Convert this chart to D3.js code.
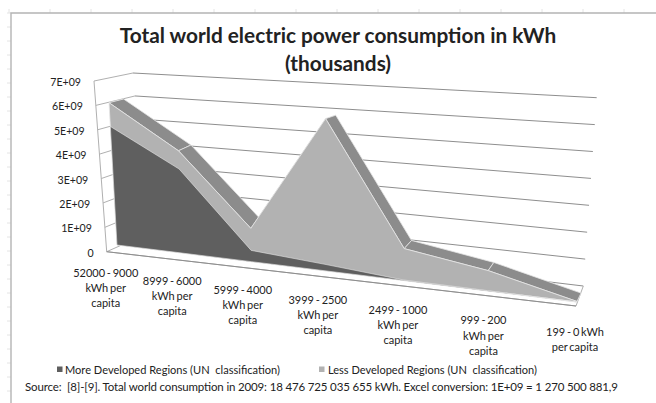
<!DOCTYPE html>
<html><head><meta charset="utf-8">
<script src="https://cdn.jsdelivr.net/npm/d3@7"></script>
<style>html,body{margin:0;background:#fff}svg{display:block}text{font-family:Lato,"Open Sans",sans-serif;fill:#222;white-space:pre}</style>
</head><body><div id="c"></div>
<script>
const categories=[["52000 - 9000","kWh per","capita"],["8999 - 6000","kWh per","capita"],["5999 - 4000","kWh per","capita"],["3999 - 2500","kWh per","capita"],["2499 - 1000","kWh per","capita"],["999 - 200","kWh per","capita"],["199 - 0 kWh","per capita"]];
const moreDeveloped=[5.0,3.45,0.45,0.25,0.02,0.01,0];
const lessDeveloped=[1.0,0.75,0.88,5.65,1.18,0.73,0.02];
const yTicks=[0,1,2,3,4,5,6,7];
const yLabels=["0","1E+09","2E+09","3E+09","4E+09","5E+09","6E+09","7E+09"];
const titleLines=["Total world electric power consumption in kWh","(thousands)"];
const legendNames=["More Developed Regions (UN  classification)","Less Developed Regions (UN  classification)"];
const source="Source:  [8]-[9]. Total world consumption in 2009: 18 476 725 035 655 kWh. Excel conversion: 1E+09 = 1 270 500 881,9";

const W=656,H=403;
const svg=d3.select("#c").append("svg").attr("width",W).attr("height",H);
const lerp=(a,b,t)=>a+(b-a)*t;
const bilinear=(q,u,v)=>{const b=[lerp(q.bl[0],q.br[0],u),lerp(q.bl[1],q.br[1],u)],t=[lerp(q.tl[0],q.tr[0],u),lerp(q.tl[1],q.tr[1],u)];return [lerp(b[0],t[0],v),lerp(b[1],t[1],v)];};
// planes of the pseudo-3D box
const frontWall={bl:[106.7,251.7],tl:[94,81],br:[576,306],tr:[590,106]};
const backWall={bl:[147,233.7],tl:[133,73],br:[583.3,286],tr:[596.7,97.7]};
const faceFront={bl:[117,245],tl:[107.7,79],br:[577,302],tr:[590,104]};
const faceBack={bl:[129,234],tl:[122.7,76.5],br:[581,293.6],tr:[595,102]};
const yS=d3.scaleLinear().domain([0,7]).range([0,1]);
const xS=d3.scalePoint().domain(d3.range(categories.length)).range([0,1]);
const persp=t=>t/(t+1.212*(1-t));
const cx=i=>persp(xS(i));
const stacked=moreDeveloped.map((d,i)=>d+lessDeveloped[i]);
const line=d3.line();
const g=svg.append("g");

// worksheet frame
const sheetCols=d3.range(0,16),sheetRows=d3.range(0,29);
g.selectAll(".cm").data(sheetCols).join("line").attr("x1",d=>9+d*41).attr("x2",d=>9+d*41).attr("y1",9).attr("y2",13).attr("stroke","#e4e4e4");
g.selectAll(".rm").data(sheetRows).join("line").attr("y1",d=>13+d*14).attr("y2",d=>13+d*14).attr("x1",7).attr("x2",11).attr("stroke","#e4e4e4");
g.append("path").attr("d",line([[656,13],[11,13],[11,403]])).attr("fill","none").attr("stroke","#b4b4b4").attr("stroke-width",1.4);

// left wall and gridlines
const wall="#b0b0b0",grid="#8e8e8e";
g.selectAll(".lw").data(yTicks).join("path").attr("fill","none").attr("stroke",wall)
 .attr("d",d=>line([bilinear(frontWall,0,yS(d)),bilinear(backWall,0,yS(d))]));
g.selectAll(".bw").data(yTicks).join("path").attr("fill","none").attr("stroke",grid)
 .attr("d",d=>line([bilinear(backWall,0,yS(d)),bilinear(backWall,1,yS(d))]));
g.append("path").attr("fill","none").attr("stroke",wall).attr("d",line([frontWall.tl,frontWall.bl,frontWall.br,backWall.br]));
g.append("path").attr("fill","none").attr("stroke",grid).attr("d",line([frontWall.bl,frontWall.br]));

// top surface of the stack
const edge="#e6e6e6";
g.selectAll(".band").data(d3.range(categories.length-1)).join("path").attr("fill","#8c8c8c").attr("stroke",edge).attr("stroke-width",.8)
 .attr("d",i=>line([bilinear(faceFront,cx(i),yS(stacked[i])),bilinear(faceFront,cx(i+1),yS(stacked[i+1])),bilinear(faceBack,cx(i+1),yS(stacked[i+1])),bilinear(faceBack,cx(i),yS(stacked[i]))])+"Z");
// faces
const faceArea=(vals)=>{const top=vals.map((v,i)=>bilinear(faceFront,cx(i),yS(v)));const bot=vals.map((v,i)=>bilinear(faceFront,cx(i),0)).reverse();return line(top.concat(bot))+"Z";};
g.append("path").attr("d",faceArea(stacked)).attr("fill","#b2b2b2").attr("stroke",edge).attr("stroke-width",.8);
g.append("path").attr("d",faceArea(moreDeveloped)).attr("fill","#5f5f5f").attr("stroke",edge).attr("stroke-width",.6);

// axis labels
g.selectAll(".yl").data(yTicks).join("text").attr("text-anchor","end").attr("font-size",10.6).attr("dominant-baseline","central")
 .attr("x",d=>bilinear(frontWall,0,yS(d))[0]-13).attr("y",d=>bilinear(frontWall,0,yS(d))[1]+1).text((d,i)=>yLabels[i]);
categories.forEach((lines,i)=>{const p=bilinear(frontWall,cx(i),0);
 g.append("g").selectAll("text").data(lines).join("text").attr("text-anchor","middle").attr("font-size",11).attr("word-spacing",-1).attr("dominant-baseline","central")
  .attr("x",p[0]-1).attr("y",(d,k)=>p[1]+20.5+5*cx(i)+k*15.2).text(d=>d);});

// title
g.selectAll(".t").data(titleLines).join("text").attr("text-anchor","middle").attr("x",338).attr("y",(d,i)=>43+i*27.5).attr("font-size",20.8).attr("font-weight",700).attr("fill","#111").text(d=>d);

// legend
const legendX=[[57,65,215],[319,328,209]],legendFill=["#5f5f5f","#b2b2b2"];
legendNames.forEach((n,i)=>{const [sx,tx,len]=legendX[i];
 g.append("rect").attr("x",sx).attr("y",366.5).attr("width",5.5).attr("height",5.5).attr("fill",legendFill[i]);
 g.append("text").attr("x",tx).attr("y",369).attr("dominant-baseline","central").attr("font-size",11.5).attr("textLength",len).attr("lengthAdjust","spacingAndGlyphs").text(n);});
g.append("text").attr("x",25).attr("y",386.5).attr("dominant-baseline","central").attr("font-size",11.5).attr("textLength",593).attr("lengthAdjust","spacing").text(source);
</script></body></html>
